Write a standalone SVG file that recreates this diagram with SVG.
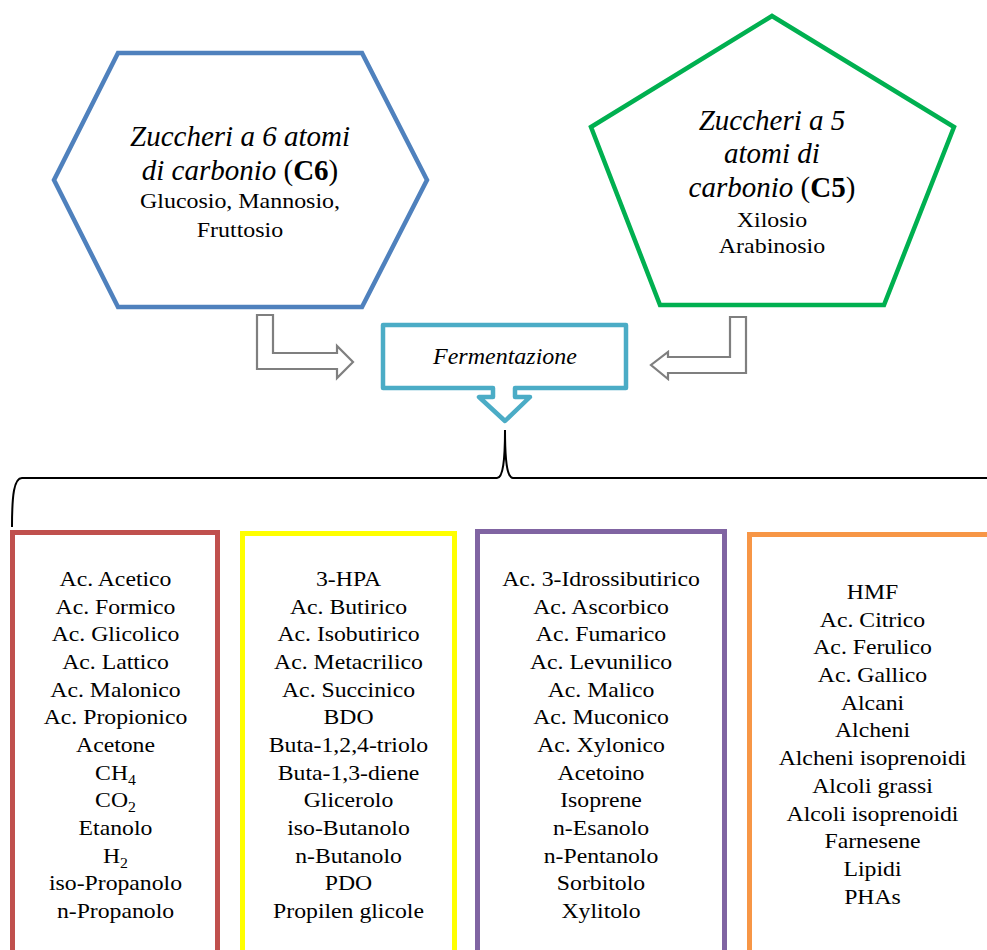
<svg xmlns="http://www.w3.org/2000/svg" width="987" height="950" viewBox="0 0 987 950">
<style>
text{font-family:"Liberation Serif","Times New Roman",serif;fill:#000;text-anchor:middle}
.it{font-style:italic}
.t{font-size:21px}
.h{font-size:29px}
.shape{fill:#fff;stroke-width:4.5;stroke-linejoin:miter}
.arr{fill:#fff;stroke:#7F7F7F;stroke-width:2.2}
.box{fill:#fff;stroke-width:5}
</style>
<rect width="987" height="950" fill="#fff"/>
<g id="c6">
<polygon class="shape" stroke="#4F81BD" points="118,53 362,53 427,180 362,307 118,307 54,180"/>
<text class="h it" x="240" y="146">Zuccheri a 6 atomi</text>
<text class="h" x="240" y="180"><tspan class="it">di carbonio</tspan> (<tspan font-weight="bold">C6</tspan>)</text>
<g transform="translate(240,0) scale(1.14,1)">
<text class="t" x="0" y="208">Glucosio, Mannosio,</text>
<text class="t" x="0" y="237">Fruttosio</text>
</g>
</g>
<g id="c5">
<polygon class="shape" stroke="#00B050" points="772,16 954,127 884,305 660,305 591,127"/>
<text class="h it" x="772" y="130">Zuccheri a 5</text>
<text class="h it" x="772" y="163">atomi di</text>
<text class="h" x="772" y="197"><tspan class="it">carbonio</tspan> (<tspan font-weight="bold">C5</tspan>)</text>
<g transform="translate(772,0) scale(1.14,1)">
<text class="t" x="0" y="227">Xilosio</text>
<text class="t" x="0" y="253">Arabinosio</text>
</g>
</g>
<g id="fermentazione">
<path fill="#fff" stroke="#4BACC6" stroke-width="4.5" stroke-linejoin="round" d="M383,325 L626,325 L626,388 L515,388 L515,397 L530,397 L505,421 L479,397 L493,397 L493,388 L383,388 Z"/>
<text class="it" font-size="24" x="505" y="364">Fermentazione</text>
</g>
<g id="connectors">
<polygon class="arr" points="257,315 273,315 273,353 337,353 337,346 353,362 337,378 337,369 257,369"/>
<polygon class="arr" points="746,317 730,317 730,357 668,357 668,352 651,365 668,379 668,373 746,373"/>
<path fill="none" stroke="#000" stroke-width="2" d="M12,527 C12,495 14,478 22,478 L497,478 C503,478 505,460 505,430 C505,460 507,478 513,478 L992,478"/>
</g>
<g id="col1">
<rect class="box" stroke="#C0504D" x="12.5" y="532.5" width="205" height="440"/>
<g transform="translate(115.5,0) scale(1.13,1)" class="t">
<text x="0" y="586">Ac. Acetico</text>
<text x="0" y="613.7">Ac. Formico</text>
<text x="0" y="641.3">Ac. Glicolico</text>
<text x="0" y="669">Ac. Lattico</text>
<text x="0" y="696.7">Ac. Malonico</text>
<text x="0" y="724.3">Ac. Propionico</text>
<text x="0" y="752">Acetone</text>
<text x="0" y="779.7">CH<tspan font-size="14" dy="5">4</tspan></text>
<text x="0" y="807.3">CO<tspan font-size="14" dy="5">2</tspan></text>
<text x="0" y="835">Etanolo</text>
<text x="0" y="862.7">H<tspan font-size="14" dy="5">2</tspan></text>
<text x="0" y="890.3">iso-Propanolo</text>
<text x="0" y="918">n-Propanolo</text>
</g>
</g>
<g id="col2">
<rect class="box" stroke="#FFFF00" x="242.5" y="533.5" width="212" height="440"/>
<g transform="translate(348.5,0) scale(1.13,1)" class="t">
<text x="0" y="586">3-HPA</text>
<text x="0" y="613.7">Ac. Butirico</text>
<text x="0" y="641.3">Ac. Isobutirico</text>
<text x="0" y="669">Ac. Metacrilico</text>
<text x="0" y="696.7">Ac. Succinico</text>
<text x="0" y="724.3">BDO</text>
<text x="0" y="752">Buta-1,2,4-triolo</text>
<text x="0" y="779.7">Buta-1,3-diene</text>
<text x="0" y="807.3">Glicerolo</text>
<text x="0" y="835">iso-Butanolo</text>
<text x="0" y="862.7">n-Butanolo</text>
<text x="0" y="890.3">PDO</text>
<text x="0" y="918">Propilen glicole</text>
</g>
</g>
<g id="col3">
<rect class="box" stroke="#8064A2" x="477.5" y="531.5" width="247" height="440"/>
<g transform="translate(601,0) scale(1.13,1)" class="t">
<text x="0" y="586">Ac. 3-Idrossibutirico</text>
<text x="0" y="613.7">Ac. Ascorbico</text>
<text x="0" y="641.3">Ac. Fumarico</text>
<text x="0" y="669">Ac. Levunilico</text>
<text x="0" y="696.7">Ac. Malico</text>
<text x="0" y="724.3">Ac. Muconico</text>
<text x="0" y="752">Ac. Xylonico</text>
<text x="0" y="779.7">Acetoino</text>
<text x="0" y="807.3">Isoprene</text>
<text x="0" y="835">n-Esanolo</text>
<text x="0" y="862.7">n-Pentanolo</text>
<text x="0" y="890.3">Sorbitolo</text>
<text x="0" y="918">Xylitolo</text>
</g>
</g>
<g id="col4">
<rect class="box" stroke="#F79646" x="749.5" y="534.5" width="260" height="440"/>
<g transform="translate(872.5,0) scale(1.13,1)" class="t">
<text x="0" y="599">HMF</text>
<text x="0" y="626.7">Ac. Citrico</text>
<text x="0" y="654.4">Ac. Ferulico</text>
<text x="0" y="682.1">Ac. Gallico</text>
<text x="0" y="709.8">Alcani</text>
<text x="0" y="737.5">Alcheni</text>
<text x="0" y="765.2">Alcheni isoprenoidi</text>
<text x="0" y="792.9">Alcoli grassi</text>
<text x="0" y="820.6">Alcoli isoprenoidi</text>
<text x="0" y="848.3">Farnesene</text>
<text x="0" y="876">Lipidi</text>
<text x="0" y="903.7">PHAs</text>
</g>
</g>
</svg>
